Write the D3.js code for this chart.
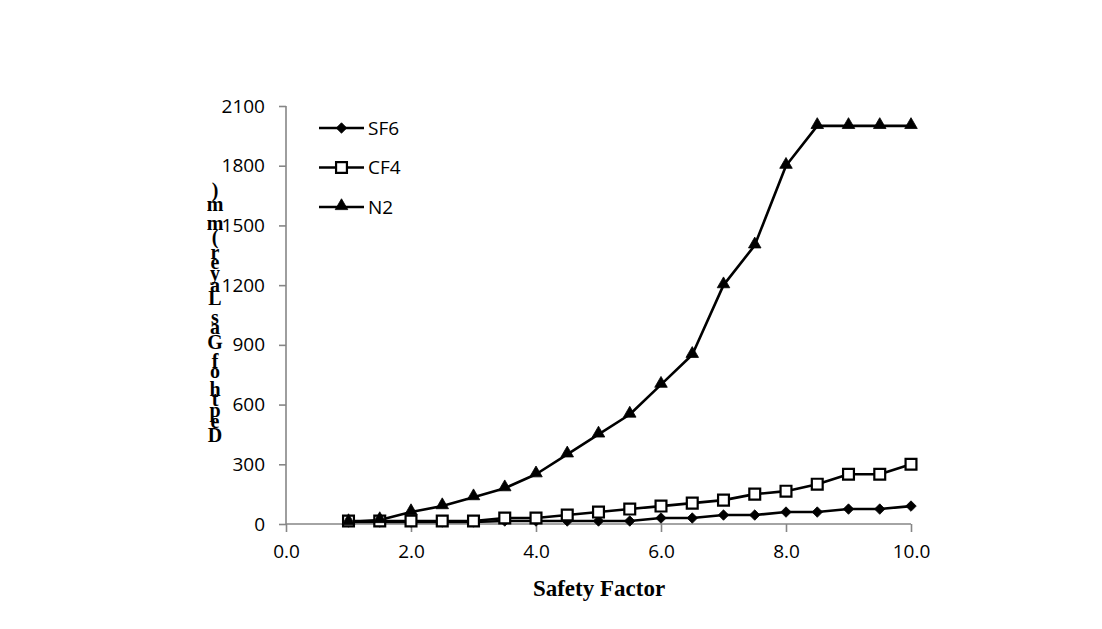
<!DOCTYPE html>
<html><head><meta charset="utf-8">
<script src="https://cdnjs.cloudflare.com/ajax/libs/d3/7.8.5/d3.min.js"></script>
<style>body{margin:0;background:#fff}</style>
</head><body><svg id="c" width="1102" height="629"></svg>
<script>
const safetyFactor = [1.0,1.5,2.0,2.5,3.0,3.5,4.0,4.5,5.0,5.5,6.0,6.5,7.0,7.5,8.0,8.5,9.0,9.5,10.0];
const sf6 = [10,10,10,10,10,15,15,15,15,15,30,30,45,45,60,60,75,75,90];
const cf4 = [15,15,15,15,15,30,30,45,60,75,90,105,120,150,165,200,250,250,300];
const n2  = [10,20,60,90,135,180,250,350,450,550,700,850,1200,1400,1800,2000,2000,2000,2000];
const seriesNames = ["SF6","CF4","N2"];
const xTicks = [0,2,4,6,8,10];
const yTicks = [0,300,600,900,1200,1500,1800,2100];
const xTitle = "Safety Factor";
const yTitle = "Depth of Gas Layer (mm)";

const svg = d3.select("#c");
const x = d3.scaleLinear().domain([0,10]).range([286,911]);
const y = d3.scaleLinear().domain([0,2100]).range([524,106]);
const axisColor = "#868686";
const tickFont = "'Open Sans', sans-serif";

// Y axis
const ya = svg.append("g").attr("transform","translate(286,0)")
  .call(d3.axisLeft(y).tickValues(yTicks).tickSize(7).tickPadding(14).tickFormat(d3.format("d")));
// X axis
const xa = svg.append("g").attr("transform","translate(0,524)")
  .call(d3.axisBottom(x).tickValues(xTicks).tickSize(8).tickPadding(13).tickFormat(d3.format(".1f")));
[ya,xa].forEach(g=>{
  g.select(".domain").attr("stroke",axisColor).attr("stroke-width",1.6);
  g.selectAll(".tick line").attr("stroke",axisColor).attr("stroke-width",1.6);
  g.selectAll(".tick text").attr("fill","#000").style("font-family",tickFont).style("font-size","19px");
});
ya.select(".domain").attr("d","M0,106V524");
xa.select(".domain").attr("d","M286,0H911");

// series
const wideDiamond = { draw(ctx,size){ const r=Math.sqrt(size/2); ctx.moveTo(0,-r); ctx.lineTo(r,0); ctx.lineTo(0,r); ctx.lineTo(-r,0); ctx.closePath(); } };
const sym = {
  SF6: d3.symbol().type(wideDiamond).size(55),
  CF4: d3.symbol().type(d3.symbolSquare).size(118),
  N2:  d3.symbol().type(d3.symbolTriangle).size(68)
};
const data = [sf6, cf4, n2];
const line = d3.line().x((d,i)=>x(safetyFactor[i])).y(d=>y(d));
seriesNames.forEach((name,k)=>{
  const vals = data[k];
  svg.append("path").datum(vals).attr("d",line).attr("fill","none").attr("stroke","#000").attr("stroke-width",2.6).attr("stroke-linejoin","round");
});
seriesNames.forEach((name,k)=>{
  const vals = data[k];
  svg.append("g").selectAll("path").data(vals).join("path")
    .attr("transform",(d,i)=>`translate(${x(safetyFactor[i])},${y(d) + (name==="N2"?-1:0)})`)
    .attr("d",sym[name]())
    .attr("fill",name==="CF4"?"#fff":"#000")
    .attr("stroke","#000").attr("stroke-width",name==="CF4"?2.2:0.8);
});

// legend
const lg = svg.append("g");
seriesNames.forEach((name,k)=>{
  const yy = 128 + k*39.5;
  lg.append("line").attr("x1",319).attr("x2",364).attr("y1",yy).attr("y2",yy).attr("stroke","#000").attr("stroke-width",2.6);
  lg.append("path").attr("transform",`translate(341.5,${yy + (name==="N2"?-1:0)})`).attr("d",sym[name]())
    .attr("fill",name==="CF4"?"#fff":"#000").attr("stroke","#000").attr("stroke-width",name==="CF4"?2.2:0.8);
  lg.append("text").attr("x",368).attr("y",yy).attr("dy","0.35em").text(name)
    .style("font-family",tickFont).style("font-size","19px").attr("fill","#000");
});

// x title
svg.append("text").attr("x",599).attr("y",596).attr("text-anchor","middle").text(xTitle)
  .style("font-family","'Liberation Serif', serif").style("font-weight","bold").style("font-size","23px");

// y title: upright glyphs stacked as if rotated text
const yt = svg.append("g");
const meas = svg.append("text").style("font-family","'Liberation Serif', serif").style("font-weight","bold").style("font-size","23.4px").attr("visibility","hidden");
let cum = 0;
const chars = Array.from(yTitle);
const widths = chars.map(ch=>{ meas.text(ch===" "?"\u00a0":ch); return meas.node().getComputedTextLength(); });
meas.remove();
const y0 = 435 + widths[0]/2;
chars.forEach((ch,i)=>{
  const c = y0 - (cum + widths[i]/2);
  cum += widths[i];
  if(ch===" ") return;
  yt.append("text").attr("x",215).attr("y",c).attr("dy","0.35em").attr("text-anchor","middle").text(ch)
    .style("font-family","'Liberation Serif', serif").style("font-weight","bold").style("font-size","20px");
});
</script>
</body></html>
